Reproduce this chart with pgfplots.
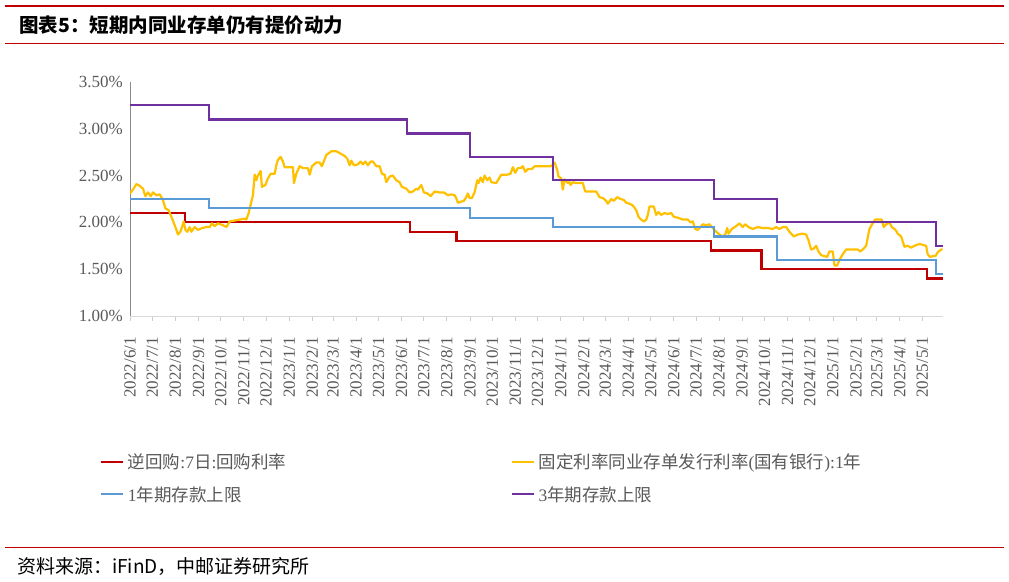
\documentclass[border=0pt]{standalone}
\usepackage{pgfplots}
\pgfplotsset{compat=1.18}
\usepackage{fontspec}
\setmainfont{Liberation Serif}
\newfontfamily\cjk{Noto Sans CJK SC}

\definecolor{cRed}{HTML}{C00000}
\definecolor{cYel}{HTML}{FFC000}
\definecolor{cBlue}{HTML}{5B9BD5}
\definecolor{cPur}{HTML}{7030A0}
\definecolor{txt}{HTML}{595959}

% x = days since 2022/6/1
\begin{document}
\begin{tikzpicture}
\useasboundingbox (0,0) rectangle (1009bp,582bp);
% header / footer rules
\draw[cRed, line width=2.5bp] (5bp,576bp) -- (1004bp,576bp);
\draw[cRed, line width=1bp] (5bp,538bp) -- (1004bp,538bp);
\draw[cRed, line width=1bp] (5bp,34bp) -- (1004bp,34bp);
\node[anchor=west, inner sep=0pt, font=\cjk\fontsize{19.5bp}{22bp}\selectfont\bfseries] at (19bp,557bp) {图表5：短期内同业存单仍有提价动力};
\node[anchor=west, inner sep=0pt, font=\cjk\fontsize{19bp}{22bp}\selectfont] at (17bp,16bp) {资料来源：iFinD，中邮证券研究所};

\begin{axis}[
    at={(130bp,266bp)}, anchor=south west,
    width=813bp, height=234bp, scale only axis,
    xmin=0, xmax=1093, ymin=1, ymax=3.5,
    axis x line*=bottom, axis y line*=left,
    x axis line style={draw=black!15, line width=0.8bp, -},
    y axis line style={draw=black!45, line width=0.8bp, -},
    tick align=outside,
    major tick length=5bp,
    xtick style={draw=black!20, line width=0.8bp},
    ytick style={draw=none},
    ytick={1,1.5,2,2.5,3,3.5},
    yticklabels={1.00\%,1.50\%,2.00\%,2.50\%,3.00\%,3.50\%},
    xtick={0,30,61,92,122,153,183,214,245,273,304,334,365,395,426,457,487,518,548,579,610,639,670,700,731,761,792,823,853,884,914,945,976,1004,1035,1065},
    xticklabels={2022/6/1,2022/7/1,2022/8/1,2022/9/1,2022/10/1,2022/11/1,2022/12/1,2023/1/1,2023/2/1,2023/3/1,2023/4/1,2023/5/1,2023/6/1,2023/7/1,2023/8/1,2023/9/1,2023/10/1,2023/11/1,2023/12/1,2024/1/1,2024/2/1,2024/3/1,2024/4/1,2024/5/1,2024/6/1,2024/7/1,2024/8/1,2024/9/1,2024/10/1,2024/11/1,2024/12/1,2025/1/1,2025/2/1,2025/3/1,2025/4/1,2025/5/1},
    ticklabel style={font=\fontsize{17bp}{20bp}\selectfont, text=txt},
    xticklabel style={rotate=90, anchor=east, inner sep=0pt, xshift=-16bp},
    yticklabel style={anchor=east, inner sep=0pt, xshift=-2bp},
    legend columns=2,
    legend cell align=left,
    legend image code/.code={\draw[#1, line width=2.2bp] (0bp,0bp) -- (22bp,0bp);},
    legend style={at={(-0.0369,-0.58)}, anchor=north west, draw=none, fill=none,
        font=\fontsize{17.5bp}{20bp}\selectfont, text=txt,
        inner sep=0pt, row sep=12bp,
        nodes={inner xsep=3.5bp, inner ysep=2bp},
        /tikz/column 2/.style={column sep=221bp}},
]
\addplot[cRed, const plot, line width=2.2bp] coordinates {
(0,2.10) (74,2.00) (376,1.90) (439,1.80) (781,1.70) (849,1.50) (1071,1.40) (1093,1.40)};
\addlegendentry{{\cjk 逆回购}:7{\cjk 日}:{\cjk 回购利率}}
\addplot[cYel, line width=2.2bp, line join=round] table {
x y
0 2.31
4.0 2.35
8.6 2.41
13.0 2.39
17.5 2.36
20.7 2.28
24.2 2.32
27.8 2.28
30.9 2.32
35.5 2.29
39.9 2.30
44.3 2.24
47.6 2.15
52.0 2.13
55.6 2.06
59.1 1.99
62.4 1.92
64.5 1.87
67.7 1.90
69.9 1.95
72.2 2.01
74.5 1.92
77.1 1.90
80.2 1.95
82.5 1.90
86.9 1.95
91.4 1.92
96.8 1.94
102.7 1.95
107.1 1.95
110.2 1.99
113.8 1.96
118.3 1.99
125.0 1.97
129.6 1.95
134.0 2.01
140.7 2.02
147.4 2.03
154.1 2.04
156.4 2.03
159.5 2.10
162.2 2.19
165.3 2.29
167.6 2.51
169.9 2.45
172.0 2.50
175.6 2.55
177.4 2.38
182.0 2.40
185.5 2.47
189.1 2.52
194.5 2.52
196.7 2.61
198.9 2.67
202.5 2.70
205.6 2.65
207.9 2.59
219.1 2.59
220.4 2.42
223.6 2.52
228.1 2.60
232.5 2.58
239.2 2.58
241.5 2.51
244.6 2.60
250.5 2.64
254.9 2.64
258.0 2.60
263.9 2.72
270.7 2.76
277.4 2.76
284.1 2.73
288.6 2.71
292.2 2.68
295.3 2.61
297.5 2.66
301.0 2.61
306.4 2.62
310.0 2.65
313.1 2.62
316.4 2.65
319.8 2.61
323.5 2.65
326.6 2.65
331.1 2.60
335.6 2.60
338.7 2.52
342.3 2.51
344.6 2.43
349.0 2.49
353.4 2.50
358.0 2.45
362.4 2.43
365.5 2.38
371.5 2.36
375.9 2.32
380.3 2.33
384.9 2.36
387.0 2.35
391.6 2.40
395.1 2.32
399.7 2.31
404.1 2.28
409.5 2.33
416.2 2.32
422.0 2.32
427.4 2.29
431.9 2.30
436.4 2.29
438.6 2.26
440.8 2.21
444.4 2.22
448.9 2.23
452.1 2.27
454.2 2.31
456.5 2.26
459.6 2.26
463.2 2.32
466.9 2.45
468.6 2.42
471.3 2.48
474.4 2.43
476.7 2.50
480.3 2.45
483.4 2.48
485.7 2.43
492.4 2.42
496.8 2.48
499.1 2.51
507.2 2.51
511.6 2.52
514.7 2.59
517.9 2.53
521.4 2.58
525.1 2.58
528.1 2.60
531.4 2.54
534.9 2.57
540.2 2.57
543.9 2.60
552.9 2.60
566.3 2.60
570.8 2.64
574.4 2.56
576.1 2.49
579.8 2.47
581.9 2.35
584.2 2.46
588.6 2.42
590.9 2.43
592.3 2.40
595.3 2.43
599.9 2.42
608.8 2.42
612.0 2.33
617.8 2.33
626.8 2.33
631.2 2.27
635.7 2.26
640.2 2.23
642.4 2.20
647.0 2.25
650.4 2.23
655.0 2.27
659.4 2.25
663.9 2.24
667.1 2.21
671.6 2.20
676.0 2.18
680.6 2.13
683.6 2.06
687.3 2.03
690.8 2.01
694.0 2.03
696.2 2.08
698.4 2.17
704.2 2.17
707.4 2.08
710.5 2.11
714.1 2.08
718.6 2.10
723.0 2.09
727.6 2.10
731.1 2.06
736.5 2.05
743.2 2.03
749.9 2.03
753.5 2.00
756.6 2.01
759.8 1.93
763.3 1.92
767.0 1.95
770.0 1.98
774.6 1.97
779.0 1.98
783.5 1.94
788.1 1.90
792.5 1.87
796.9 1.85
800.2 1.87
802.9 1.94
804.6 1.88
809.0 1.93
814.9 1.96
819.4 1.99
823.8 1.95
827.0 1.98
831.5 1.95
837.2 1.93
844.0 1.95
850.7 1.94
857.4 1.94
864.1 1.93
868.7 1.95
873.1 1.93
877.6 1.95
882.1 1.95
886.6 1.90
892.3 1.85
897.7 1.87
904.4 1.88
909.0 1.87
912.1 1.81
915.7 1.71
919.2 1.72
922.5 1.75
925.5 1.69
929.2 1.65
933.6 1.64
937.2 1.63
940.3 1.69
944.8 1.69
947.1 1.54
950.7 1.54
953.8 1.60
958.2 1.66
962.8 1.71
969.5 1.71
978.4 1.71
982.0 1.69
986.4 1.72
989.7 1.75
994.1 1.93
998.5 1.99
1001.8 2.03
1007.6 2.03
1010.6 2.03
1013.3 1.95
1016.5 1.98
1021.0 2.00
1024.1 1.95
1027.7 1.93
1030.0 1.91
1032.1 1.88
1036.7 1.85
1041.1 1.74
1045.6 1.75
1050.1 1.73
1054.6 1.75
1061.3 1.77
1065.7 1.76
1070.3 1.75
1072.4 1.66
1075.7 1.63
1079.2 1.64
1082.8 1.64
1085.9 1.68
1090.5 1.71
1092.6 1.71
};
\addlegendentry{{\cjk 固定利率同业存单发行利率}({\cjk 国有银行}):1{\cjk 年}}
\addplot[cBlue, const plot, line width=2.2bp] coordinates {
(0,2.25) (106,2.15) (457,2.05) (569,1.95) (785,1.85) (870,1.60) (1084,1.45) (1093,1.45)};
\addlegendentry{1{\cjk 年期存款上限}}
\addplot[cPur, const plot, line width=2.2bp] coordinates {
(0,3.25) (106,3.10) (372,2.95) (457,2.70) (569,2.45) (785,2.25) (870,2.00) (1084,1.75) (1093,1.75)};
\addlegendentry{3{\cjk 年期存款上限}}
\end{axis}
\end{tikzpicture}
\end{document}
